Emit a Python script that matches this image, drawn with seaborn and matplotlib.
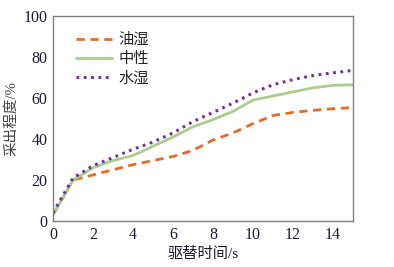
import pandas as pd
import numpy as np
import matplotlib
matplotlib.use('Agg')
import matplotlib.pyplot as plt
import seaborn as sns

# 驱替时间 / 采出程度
t_oil = [0, 1, 2, 3, 4, 5, 6, 7, 8, 9, 10, 11, 12, 13, 14, 15]
r_oil = [3, 20, 22.5, 25, 27.5, 29.5, 31.5, 34.5, 39.5, 43, 47.5, 51.5, 53, 54, 54.8, 55.3]
t_neu = [0, 1, 2, 3, 4, 5, 6, 7, 8, 9, 10, 11, 12, 13, 14, 15]
r_neu = [3, 20, 26, 29.5, 32, 36.5, 41, 46, 49.5, 53.5, 59, 61, 63, 65, 66.2, 66.5]
t_wat = [0, 1, 2, 3, 4, 5, 6, 7, 8, 9, 10, 11, 12, 13, 14, 15]
r_wat = [4, 21, 27, 31, 35, 38.5, 43, 48.5, 53, 57.5, 62.5, 66.5, 69, 71, 72.3, 73.5]
names = ['油湿', '中性', '水湿']

sns.set_style('white')
plt.rcParams['font.family'] = ['Liberation Serif', 'Noto Sans CJK SC']

fig = plt.figure(figsize=(3.94, 2.67), dpi=100)
ax = fig.add_axes([0.1345, 0.172, 0.7615, 0.768])

sns.lineplot(x=t_oil, y=r_oil, ax=ax, color='#E46C2A', lw=2, label=names[0])
sns.lineplot(x=t_neu, y=r_neu, ax=ax, color='#A9CD8A', lw=2, label=names[1])
sns.lineplot(x=t_wat, y=r_wat, ax=ax, color='#7030A0', lw=2.2, label=names[2])
ax.lines[0].set_linestyle((0, (3, 2)))
ax.lines[2].set_linestyle((0, (0.9, 1.5)))

ax.set_xlim(0, 15)
ax.set_ylim(0, 100)
ax.set_xticks(np.arange(0, 15, 2))
ax.set_yticks(np.arange(0, 101, 20))
ax.tick_params(axis='x', direction='in', length=3, color='#808080', labelsize=11.5,
               labelcolor='#1a1a2e', pad=4)
ax.tick_params(axis='y', direction='out', length=3, color='#808080', labelsize=11.5,
               labelcolor='#1a1a2e', pad=1)
for s in ax.spines.values():
    s.set_color('#808080')
    s.set_linewidth(1)

ax.set_xlabel('驱替时间/s', fontsize=11, labelpad=3, color='#1a1a2e')
ax.set_ylabel('采出程度/%', fontsize=10.5, color='#404040', labelpad=4)

leg = ax.legend(loc='upper left', frameon=False, fontsize=11, handlelength=2.4,
                labelspacing=0.35, bbox_to_anchor=(0.03, 0.985), handletextpad=0.4)

fig.savefig('out.png', dpi=100)
